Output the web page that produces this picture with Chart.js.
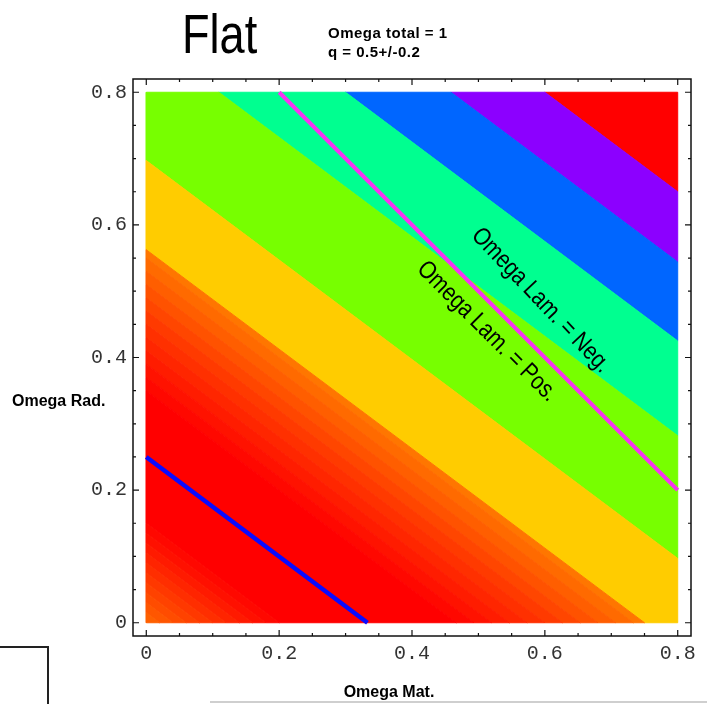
<!DOCTYPE html>
<html>
<head>
<meta charset="utf-8">
<script src="https://cdn.jsdelivr.net/npm/chart.js@4"></script>
<style>
  html, body { margin: 0; padding: 0; background: #fff; }
  canvas { display: block; }
</style>
</head>
<body>
<canvas id="chart" width="707" height="704"></canvas>
<script>
// plotted region (Omega Mat on x, Omega Rad on y)
const omegaMatRange = [0, 0.8];
const omegaRadRange = [0, 0.8];
const majorTicks = [0, 0.2, 0.4, 0.6, 0.8];
const minorTicks = [0.05, 0.1, 0.15, 0.25, 0.3, 0.35, 0.45, 0.5, 0.55, 0.65, 0.7, 0.75];

// contour bands run along Omega Rad + 0.75 * Omega Mat = const
const bandTilt = 0.75;
// lower bound of each band and its colour
const bandFloors = [0, 0.015, 0.03, 0.045, 0.06, 0.075, 0.09, 0.105, 0.12, 0.135,
                    0.15,
                    0.35, 0.37, 0.39, 0.41, 0.43, 0.45, 0.47, 0.49, 0.51, 0.53, 0.55,
                    0.5625, 0.697, 0.882, 1.025, 1.144, 1.25];
const bandColors = ['#ff6000', '#ff5600', '#ff4c00', '#ff4200', '#ff3800', '#ff2e00', '#ff2400', '#ff1a00', '#ff1000', '#ff0800',
                    '#ff0000',
                    '#ff0800', '#ff1200', '#ff1c00', '#ff2600', '#ff3000', '#ff3a00', '#ff4600', '#ff5200', '#ff5e00', '#ff6a00', '#ff7600',
                    '#ffcc00', '#77ff00', '#00ff90', '#0066ff', '#8c00ff', '#ff0000'];

// Omega Lambda = 0 line (magenta) and the blue line near the origin
const lamZeroMat = [0.2, 0.8];
const lamZeroRad = [0.8, 0.2];
const blueMat = [0, 0.333];
const blueRad = [0.25, 0];

function clip(poly, keep) {
  const out = [];
  for (let i = 0; i < poly.length; i++) {
    const a = poly[i], b = poly[(i + 1) % poly.length];
    const fa = keep(a), fb = keep(b);
    if (fa >= 0) out.push(a);
    if ((fa >= 0) !== (fb >= 0)) {
      const t = fa / (fa - fb);
      out.push({ x: a.x + t * (b.x - a.x), y: a.y + t * (b.y - a.y) });
    }
  }
  return out;
}

function bandPolygon(lo, hi) {
  let poly = [
    { x: omegaMatRange[0], y: omegaRadRange[0] },
    { x: omegaMatRange[1], y: omegaRadRange[0] },
    { x: omegaMatRange[1], y: omegaRadRange[1] },
    { x: omegaMatRange[0], y: omegaRadRange[1] }
  ];
  poly = clip(poly, p => p.y + bandTilt * p.x - lo);
  if (hi !== undefined) poly = clip(poly, p => hi - (p.y + bandTilt * p.x));
  if (poly.length) poly.push(poly[0]);
  return poly;
}

const bandSets = bandFloors.map((lo, i) => ({
  data: bandPolygon(lo, bandFloors[i + 1]),
  showLine: true,
  fill: 'shape',
  backgroundColor: bandColors[i],
  borderColor: bandColors[i],
  borderWidth: 1,
  pointRadius: 0,
  tension: 0,
  order: 2
}));

const lineSets = [
  {
    data: lamZeroMat.map((x, i) => ({ x, y: lamZeroRad[i] })),
    showLine: true, borderColor: '#f733f2', borderWidth: 4, pointRadius: 0, fill: false, order: 0
  },
  {
    data: blueMat.map((x, i) => ({ x, y: blueRad[i] })),
    showLine: true, borderColor: '#0a0aff', borderWidth: 4.5, pointRadius: 0, fill: false, order: 0
  }
];

const allTicks = majorTicks.concat(minorTicks).sort((a, b) => a - b);

function tickLabel(v) {
  return majorTicks.some(m => Math.abs(m - v) < 1e-9) ? (v === 0 ? '0' : v.toFixed(1)) : '';
}

const tickFont = { family: "'Liberation Mono', 'DejaVu Sans Mono', monospace", size: 20 };

const decor = {
  id: 'decor',
  afterDraw(chart) {
    const { ctx, chartArea: a, scales: { x, y } } = chart;
    ctx.save();
    // frame
    ctx.strokeStyle = '#111';
    ctx.lineWidth = 1.5;
    ctx.strokeRect(a.left, a.top, a.right - a.left, a.bottom - a.top);
    // inward ticks on all sides
    ctx.lineWidth = 1.2;
    ctx.beginPath();
    allTicks.forEach(v => {
      const len = tickLabel(v) ? 6 : 3;
      const px = x.getPixelForValue(v);
      const py = y.getPixelForValue(v);
      ctx.moveTo(px, a.bottom); ctx.lineTo(px, a.bottom - len);
      ctx.moveTo(px, a.top); ctx.lineTo(px, a.top + len);
      ctx.moveTo(a.left, py); ctx.lineTo(a.left + len, py);
      ctx.moveTo(a.right, py); ctx.lineTo(a.right - len, py);
    });
    ctx.stroke();

    ctx.fillStyle = '#000';
    // title
    ctx.save();
    ctx.translate(182, 53);
    ctx.scale(0.82, 1);
    ctx.font = "55px 'Liberation Sans', Arial, sans-serif";
    ctx.textBaseline = 'alphabetic';
    ctx.fillText('Flat', 0, 0);
    ctx.restore();

    ctx.save();
    ctx.font = "bold 15px 'Liberation Sans', Arial, sans-serif";
    ctx.letterSpacing = '0.5px';
    ctx.textBaseline = 'alphabetic';
    ctx.fillText('Omega total = 1', 328, 38);
    ctx.fillText('q = 0.5+/-0.2', 328, 57);
    ctx.restore();

    // axis titles
    ctx.font = "bold 16px 'Liberation Sans', Arial, sans-serif";
    ctx.fillText('Omega Rad.', 12, 406);
    ctx.textAlign = 'center';
    ctx.fillText('Omega Mat.', 389, 697);

    // labels along the Omega Lambda = 0 line
    ctx.font = "25px 'Liberation Sans', Arial, sans-serif";
    ctx.textBaseline = 'middle';
    const labels = [
      { text: 'Omega Lam. = Neg.', mx: 0.594, my: 0.486, ang: 46.5 },
      { text: 'Omega Lam. = Pos.', mx: 0.513, my: 0.439, ang: 45 }
    ];
    labels.forEach(l => {
      ctx.save();
      ctx.translate(x.getPixelForValue(l.mx), y.getPixelForValue(l.my));
      ctx.rotate(l.ang * Math.PI / 180);
      ctx.scale(0.84, 1);
      ctx.fillText(l.text, 0, 0);
      ctx.restore();
    });

    // stray marks in the original image
    ctx.strokeStyle = '#222';
    ctx.lineWidth = 2;
    ctx.beginPath();
    ctx.moveTo(0, 647); ctx.lineTo(48, 647); ctx.lineTo(48, 704);
    ctx.stroke();
    ctx.strokeStyle = '#cfcfcf';
    ctx.lineWidth = 2;
    ctx.beginPath();
    ctx.moveTo(210, 702); ctx.lineTo(707, 702);
    ctx.stroke();
    ctx.restore();
  }
};

new Chart(document.getElementById('chart'), {
  type: 'scatter',
  data: { datasets: lineSets.concat(bandSets) },
  options: {
    responsive: false,
    animation: false,
    layout: { padding: { top: 79, right: 16, left: 0, bottom: 0 } },
    plugins: { legend: { display: false }, tooltip: { enabled: false } },
    scales: {
      x: {
        type: 'linear',
        min: -0.02,
        max: 0.82,
        afterBuildTicks: s => { s.ticks = allTicks.map(v => ({ value: v })); },
        afterFit: s => { s.height = 68; },
        grid: { display: false, drawTicks: false },
        border: { display: false },
        ticks: { callback: tickLabel, autoSkip: false, maxRotation: 0, padding: 6, color: '#333', font: tickFont }
      },
      y: {
        type: 'linear',
        min: -0.02,
        max: 0.82,
        afterBuildTicks: s => { s.ticks = allTicks.map(v => ({ value: v })); },
        afterFit: s => { s.width = 133; },
        grid: { display: false, drawTicks: false },
        border: { display: false },
        ticks: { callback: tickLabel, autoSkip: false, padding: 6, color: '#333', font: tickFont }
      }
    }
  },
  plugins: [decor]
});
</script>
</body>
</html>
